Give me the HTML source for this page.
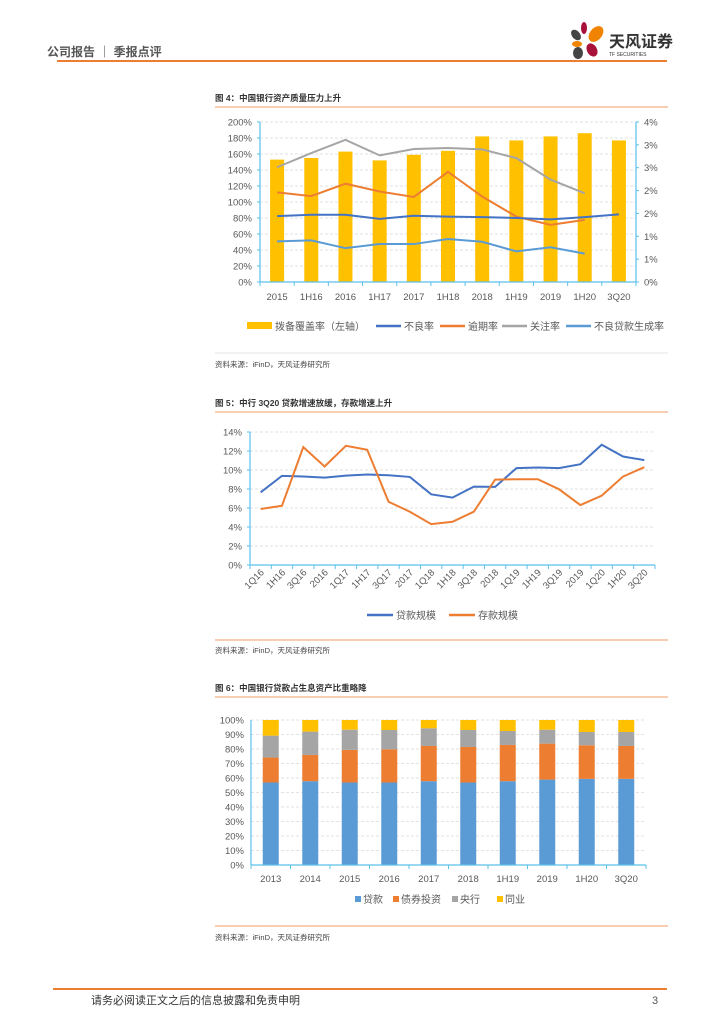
<!DOCTYPE html>
<html><head><meta charset="utf-8"><style>
body{margin:0;background:#fff;}
svg text{font-family:"Liberation Sans","Noto Sans CJK SC",sans-serif;}
</style></head><body>
<svg id="pg" width="724" height="1024" viewBox="0 0 724 1024" xmlns="http://www.w3.org/2000/svg">
<text x="47" y="56" font-size="12" fill="#555" font-weight="bold">公司报告 ｜ 季报点评</text>
<line x1="57" y1="61" x2="667" y2="61" stroke="#ED7D31" stroke-width="2"/>
<g>
<ellipse cx="576" cy="35" rx="4" ry="6" fill="#444" transform="rotate(-40 576 35)"/>
<ellipse cx="584" cy="28" rx="3" ry="6" fill="#A8123A"/>
<ellipse cx="596" cy="34" rx="6" ry="9" fill="#F08300" transform="rotate(40 596 34)"/>
<ellipse cx="577" cy="44" rx="5" ry="3" fill="#F08300"/>
<ellipse cx="592" cy="50" rx="5" ry="7" fill="#A8123A" transform="rotate(-30 592 50)"/>
<ellipse cx="578" cy="53" rx="5" ry="6" fill="#444"/>
<text x="609" y="47" font-size="16" font-weight="bold" fill="#333">天风证券</text>
<text x="609" y="56" font-size="5" fill="#333">TF SECURITIES</text>
</g>

<text x="215" y="101" font-size="8.5" font-weight="bold" fill="#333">图 4：中国银行资产质量压力上升</text>
<line x1="215" y1="107" x2="668" y2="107" stroke="#F4B183" stroke-width="1.2"/>
<g id="c1"></g>
<line x1="215" y1="353" x2="668" y2="353" stroke="#ddd" stroke-width="0.8"/>
<text x="215" y="367" font-size="7.5" fill="#444">资料来源：iFinD，天风证券研究所</text>

<text x="215" y="406" font-size="8.5" font-weight="bold" fill="#333">图 5：中行 3Q20 贷款增速放缓，存款增速上升</text>
<line x1="215" y1="412" x2="668" y2="412" stroke="#F4B183" stroke-width="1.2"/>
<g id="c2"></g>
<line x1="215" y1="640" x2="668" y2="640" stroke="#F4B183" stroke-width="1.2"/>
<text x="215" y="653" font-size="7.5" fill="#444">资料来源：iFinD，天风证券研究所</text>

<text x="215" y="691" font-size="8.5" font-weight="bold" fill="#333">图 6：中国银行贷款占生息资产比重略降</text>
<line x1="215" y1="697" x2="668" y2="697" stroke="#F4B183" stroke-width="1.2"/>
<g id="c3"></g>
<line x1="215" y1="926" x2="668" y2="926" stroke="#F4B183" stroke-width="1.2"/>
<text x="215" y="940" font-size="7.5" fill="#444">资料来源：iFinD，天风证券研究所</text>

<line x1="53" y1="989" x2="667" y2="989" stroke="#ED7D31" stroke-width="2"/>
<text x="91" y="1004" font-size="11" fill="#333">请务必阅读正文之后的信息披露和免责申明</text>
<text x="652" y="1004" font-size="11" fill="#555">3</text>
</svg>
<script>
// Chart 1 data
const c1Cats=["2015","1H16","2016","1H17","2017","1H18","2018","1H19","2019","1H20","3Q20"];
const c1Coverage=[153,155,163,152,159,164,182,177,182,186,177];
const c1Npl=[1.44,1.47,1.47,1.38,1.45,1.43,1.42,1.40,1.37,1.42,1.48];
const c1Overdue=[1.96,1.88,2.15,1.98,1.86,2.41,1.87,1.43,1.25,1.36];
const c1Watch=[2.51,2.82,3.11,2.77,2.91,2.93,2.90,2.71,2.24,1.94];
const c1Gen=[0.89,0.91,0.74,0.83,0.83,0.94,0.88,0.67,0.76,0.62];
const c1LeftTicks=[0,20,40,60,80,100,120,140,160,180,200];
const c1RightTicks=[0,0.5,1,1.5,2,2.5,3,3.5];
// Chart 2 data
const c2Cats=["1Q16","1H16","3Q16","2016","1Q17","1H17","3Q17","2017","1Q18","1H18","3Q18","2018","1Q19","1H19","3Q19","2019","1Q20","1H20","3Q20"];
const c2Loans=[7.65,9.38,9.31,9.2,9.41,9.52,9.45,9.27,7.44,7.09,8.25,8.22,10.2,10.26,10.2,10.61,12.66,11.42,11.04];
const c2Deposits=[5.89,6.24,12.41,10.37,12.55,12.13,6.66,5.61,4.3,4.55,5.61,8.99,9.03,9.03,7.97,6.31,7.3,9.31,10.3];
const c2Ticks=[0,2,4,6,8,10,12,14];
// Chart 3 data
const c3Cats=["2013","2014","2015","2016","2017","2018","1H19","2019","1H20","3Q20"];
const c3Loans=[56.9,57.8,56.9,56.9,57.8,56.9,57.8,58.9,59.4,59.4];
const c3Bonds=[17.2,18.1,22.5,22.9,24.3,24.5,25.0,24.8,23.2,22.7];
const c3Central=[15.1,16.1,13.9,13.3,12.2,11.7,9.6,9.6,9.1,9.6];
const c3Interbank=[10.8,8.0,6.7,6.9,5.7,6.9,7.6,6.7,8.3,8.3];
const c3Ticks=[0,10,20,30,40,50,60,70,80,90,100];

const NS="http://www.w3.org/2000/svg";
function mk(p,t,a){const e=document.createElementNS(NS,t);for(const k in a)e.setAttribute(k,a[k]);p.appendChild(e);return e;}
function txt(p,x,y,s,o){const e=mk(p,'text',Object.assign({x:x,y:y,'font-size':9.5,fill:'#595959'},o||{}));e.textContent=s;return e;}

// ---- chart 1
(function(){
const g=document.getElementById('c1');
const X0=260,X1=636,Y0=282,Y1=122,n=c1Cats.length,bw=(X1-X0)/n;
const cx=i=>X0+bw*(i+0.5);
const yl=v=>Y0-(v/200)*(Y0-Y1);
const yr=v=>Y0-(v/3.5)*(Y0-Y1);
c1LeftTicks.forEach(v=>{
 if(v>0){const gl=mk(g,'line',{x1:X0,x2:X1,y1:yl(v),y2:yl(v),stroke:'#d9d9d9','stroke-dasharray':'3,2','stroke-width':0.8});
 
 }
 const t=txt(g,252,yl(v)+3.5,v+'%',{'text-anchor':'end'});
 
 
});
c1RightTicks.forEach(v=>{
 const t=txt(g,644,yr(v)+3.5,Math.round(v)+'%',{});
 
 
});
c1Coverage.forEach((v,i)=>{
 const r=mk(g,'rect',{x:cx(i)-7,y:yl(v),width:14,height:Y0-yl(v),fill:'#FFC000'});
 
 
});
mk(g,'line',{x1:X0,x2:X0,y1:Y1,y2:Y0,stroke:'#5BC0EB','stroke-width':1.2});
mk(g,'line',{x1:X1,x2:X1,y1:Y1,y2:Y0,stroke:'#5BC0EB','stroke-width':1.2});
mk(g,'line',{x1:X0,x2:X1,y1:Y0,y2:Y0,stroke:'#5BC0EB','stroke-width':1.2});
for(let i=0;i<=n;i++)mk(g,'line',{x1:X0+bw*i,x2:X0+bw*i,y1:Y0,y2:Y0+4,stroke:'#5BC0EB'});
for(const v of c1LeftTicks)mk(g,'line',{x1:X0-3,x2:X0,y1:yl(v),y2:yl(v),stroke:'#5BC0EB'});
for(const v of c1RightTicks)mk(g,'line',{x1:X1,x2:X1+3,y1:yr(v),y2:yr(v),stroke:'#5BC0EB'});
c1Cats.forEach((c,i)=>{const t=txt(g,cx(i),300,c,{'text-anchor':'middle'});
 
 });
const series=[[c1Watch,'#A5A5A5','watch-rate-line'],[c1Overdue,'#ED7D31','overdue-rate-line'],[c1Gen,'#5B9BD5','npl-formation-line'],[c1Npl,'#4472C4','npl-ratio-line']];
series.forEach(s=>{
 const p=mk(g,'polyline',{points:s[0].map((v,i)=>cx(i)+','+yr(v)).join(' '),fill:'none',stroke:s[1],'stroke-width':2});
 
 
});
// legend
const L=mk(g,'g',{});


mk(L,'rect',{x:247,y:322,width:25,height:7,fill:'#FFC000'});
txt(L,275,330,'拨备覆盖率（左轴）',{'font-size':10});
const items=[[376,'#4472C4','不良率'],[440,'#ED7D31','逾期率'],[502,'#A5A5A5','关注率'],[566,'#5B9BD5','不良贷款生成率']];
items.forEach(it=>{mk(L,'line',{x1:it[0],x2:it[0]+25,y1:326,y2:326,stroke:it[1],'stroke-width':2.5});txt(L,it[0]+28,330,it[2],{'font-size':10});});
})();

// ---- chart 2
(function(){
const g=document.getElementById('c2');
const X0=250,X1=655,Y0=565,Y1=432,n=c2Cats.length,bw=(X1-X0)/n;
const cx=i=>X0+bw*(i+0.5);
const y=v=>Y0-(v/14)*(Y0-Y1);
c2Ticks.forEach(v=>{
 if(v>0){const gl=mk(g,'line',{x1:X0,x2:X1,y1:y(v),y2:y(v),stroke:'#d9d9d9','stroke-dasharray':'3,2','stroke-width':0.8});
 
 }
 const t=txt(g,242,y(v)+3.5,v+'%',{'text-anchor':'end'});
 
 
 mk(g,'line',{x1:X0-3,x2:X0,y1:y(v),y2:y(v),stroke:'#5BC0EB'});
});
mk(g,'line',{x1:X0,x2:X0,y1:Y1,y2:Y0,stroke:'#5BC0EB','stroke-width':1.2});
mk(g,'line',{x1:X0,x2:X1,y1:Y0,y2:Y0,stroke:'#5BC0EB','stroke-width':1.2});
for(let i=0;i<=n;i++)mk(g,'line',{x1:X0+bw*i,x2:X0+bw*i,y1:Y0,y2:Y0+4,stroke:'#5BC0EB'});
c2Cats.forEach((c,i)=>{const t=txt(g,cx(i)+4,573,c,{'text-anchor':'end',transform:'rotate(-45 '+(cx(i)+4)+' 573)'});
 
 });
[[c2Loans,'#4472C4','loan-growth-line'],[c2Deposits,'#ED7D31','deposit-growth-line']].forEach(s=>{
 const p=mk(g,'polyline',{points:s[0].map((v,i)=>cx(i)+','+y(v)).join(' '),fill:'none',stroke:s[1],'stroke-width':2});
 
 
});
const L=mk(g,'g',{});


mk(L,'line',{x1:367,x2:393,y1:615,y2:615,stroke:'#4472C4','stroke-width':2.5});txt(L,396,619,'贷款规模',{'font-size':10});
mk(L,'line',{x1:449,x2:475,y1:615,y2:615,stroke:'#ED7D31','stroke-width':2.5});txt(L,478,619,'存款规模',{'font-size':10});
})();

// ---- chart 3
(function(){
const g=document.getElementById('c3');
const X0=251,X1=646,Y0=865,Y1=720,n=c3Cats.length,bw=(X1-X0)/n;
const cx=i=>X0+bw*(i+0.5);
const y=v=>Y0-(v/100)*(Y0-Y1);
c3Ticks.forEach(v=>{
 if(v>0){const gl=mk(g,'line',{x1:X0,x2:X1,y1:y(v),y2:y(v),stroke:'#d9d9d9','stroke-dasharray':'3,2','stroke-width':0.8});
 
 }
 const t=txt(g,244,y(v)+3.5,v+'%',{'text-anchor':'end'});
 
 
});
const segs=[[c3Loans,'#5B9BD5','loans'],[c3Bonds,'#ED7D31','bonds'],[c3Central,'#A5A5A5','central-bank'],[c3Interbank,'#FFC000','interbank']];
c3Cats.forEach((c,i)=>{
 let acc=0;
 segs.forEach(s=>{
  const v=s[0][i];
  const r=mk(g,'rect',{x:cx(i)-8,y:y(acc+v),width:16,height:y(acc)-y(acc+v),fill:s[1]});
  
  
  acc+=v;
 });
 const t=txt(g,cx(i),882,c,{'text-anchor':'middle'});
 
 
});
mk(g,'line',{x1:X0,x2:X0,y1:Y1,y2:Y0,stroke:'#5BC0EB','stroke-width':1.2});
mk(g,'line',{x1:X0,x2:X1,y1:Y0,y2:Y0,stroke:'#5BC0EB','stroke-width':1.2});
for(let i=0;i<=n;i++)mk(g,'line',{x1:X0+bw*i,x2:X0+bw*i,y1:Y0,y2:Y0+4,stroke:'#5BC0EB'});
const L=mk(g,'g',{});


[[355,'#5B9BD5','贷款'],[393,'#ED7D31','债券投资'],[452,'#A5A5A5','央行'],[497,'#FFC000','同业']].forEach(it=>{
 mk(L,'rect',{x:it[0],y:896,width:6,height:6,fill:it[1]});txt(L,it[0]+8,903,it[2],{'font-size':10});
});
})();
</script>
</body></html>
